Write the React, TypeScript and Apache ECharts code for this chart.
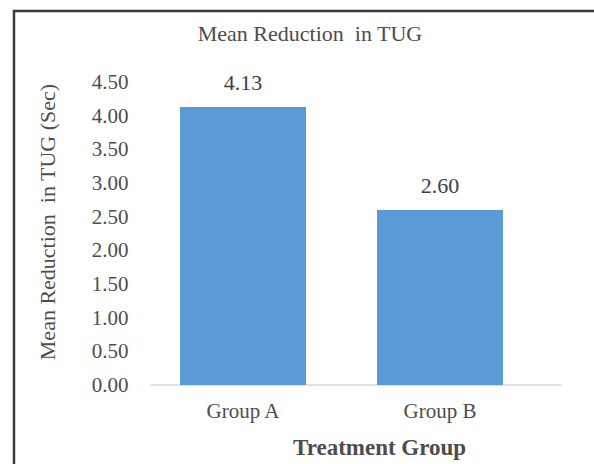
import React, { useEffect, useRef } from "react";
import * as echarts from "echarts";

const categories = ["Group A", "Group B"];
const values = [4.13, 2.6];
const yTicks = [0, 0.5, 1, 1.5, 2, 2.5, 3, 3.5, 4, 4.5];

const FONT = "'Liberation Serif', 'Times New Roman', serif";
const TXT = "#4d4d4d";

export default function App() {
  const ref = useRef<HTMLDivElement>(null);
  useEffect(() => {
    document.body.style.margin = "0";
    const chart = echarts.init(ref.current!, undefined, { renderer: "svg" });
    chart.setOption({
      animation: false,
      backgroundColor: "#ffffff",
      title: {
        text: "Mean Reduction  in TUG",
        left: 305,
        top: 17,
        textAlign: "center",
        textStyle: { fontFamily: FONT, fontSize: 22, fontWeight: "normal", color: TXT },
      },
      grid: [
        { left: 144.5, right: 55.5, top: 82, bottom: 79 },
        { left: 151, right: 33, top: 82, bottom: 79 },
      ],
      xAxis: [
        {
          type: "category",
          gridIndex: 0,
          data: categories,
          axisLine: { show: false },
          axisTick: { show: false },
          axisLabel: { fontFamily: FONT, fontSize: 21, color: TXT, margin: 15 },
        },
        {
          type: "category",
          gridIndex: 1,
          data: categories,
          axisLine: { show: true, lineStyle: { color: "#d9d9d9", width: 1.5 } },
          axisTick: { show: false },
          axisLabel: { show: false },
        },
      ],
      yAxis: [
        {
          type: "value",
          gridIndex: 0,
          min: 0,
          max: 4.5,
          interval: 0.5,
          axisLine: { show: false },
          axisTick: { show: false },
          splitLine: { show: false },
          axisLabel: {
            fontFamily: FONT,
            fontSize: 21,
            color: TXT,
            margin: 16,
            formatter: (v: number) => (yTicks.includes(v) ? v.toFixed(2) : ""),
          },
        },
        {
          type: "value",
          gridIndex: 1,
          min: 0,
          max: 4.5,
          show: false,
        },
      ],
      series: [
        {
          type: "bar",
          xAxisIndex: 0,
          yAxisIndex: 0,
          data: values,
          barWidth: 126,
          itemStyle: { color: "#5b9bd5" },
          label: {
            show: true,
            position: "top",
            distance: 13,
            fontFamily: FONT,
            fontSize: 22,
            color: "#404040",
            formatter: (p: any) => Number(p.value).toFixed(2),
          },
        },
      ],
      graphic: [
        {
          type: "text",
          x: 47,
          y: 222,
          rotation: Math.PI / 2,
          style: {
            text: "Mean Reduction  in TUG (Sec)",
            fontFamily: FONT,
            fontSize: 22,
            fill: TXT,
            align: "center",
            verticalAlign: "middle",
          },
        },
        {
          type: "text",
          left: 293,
          top: 436,
          style: {
            text: "Treatment Group",
            fontFamily: FONT,
            fontSize: 23,
            fontWeight: "bold",
            fill: TXT,
          },
        },
        {
          type: "rect",
          shape: { x: 14, y: 11, width: 620, height: 500 },
          style: { fill: "transparent", stroke: "#3c3c3c", lineWidth: 2.5 },
        },
      ],
    });
    return () => chart.dispose();
  }, []);
  return <div ref={ref} style={{ width: 594, height: 464 }} />;
}
